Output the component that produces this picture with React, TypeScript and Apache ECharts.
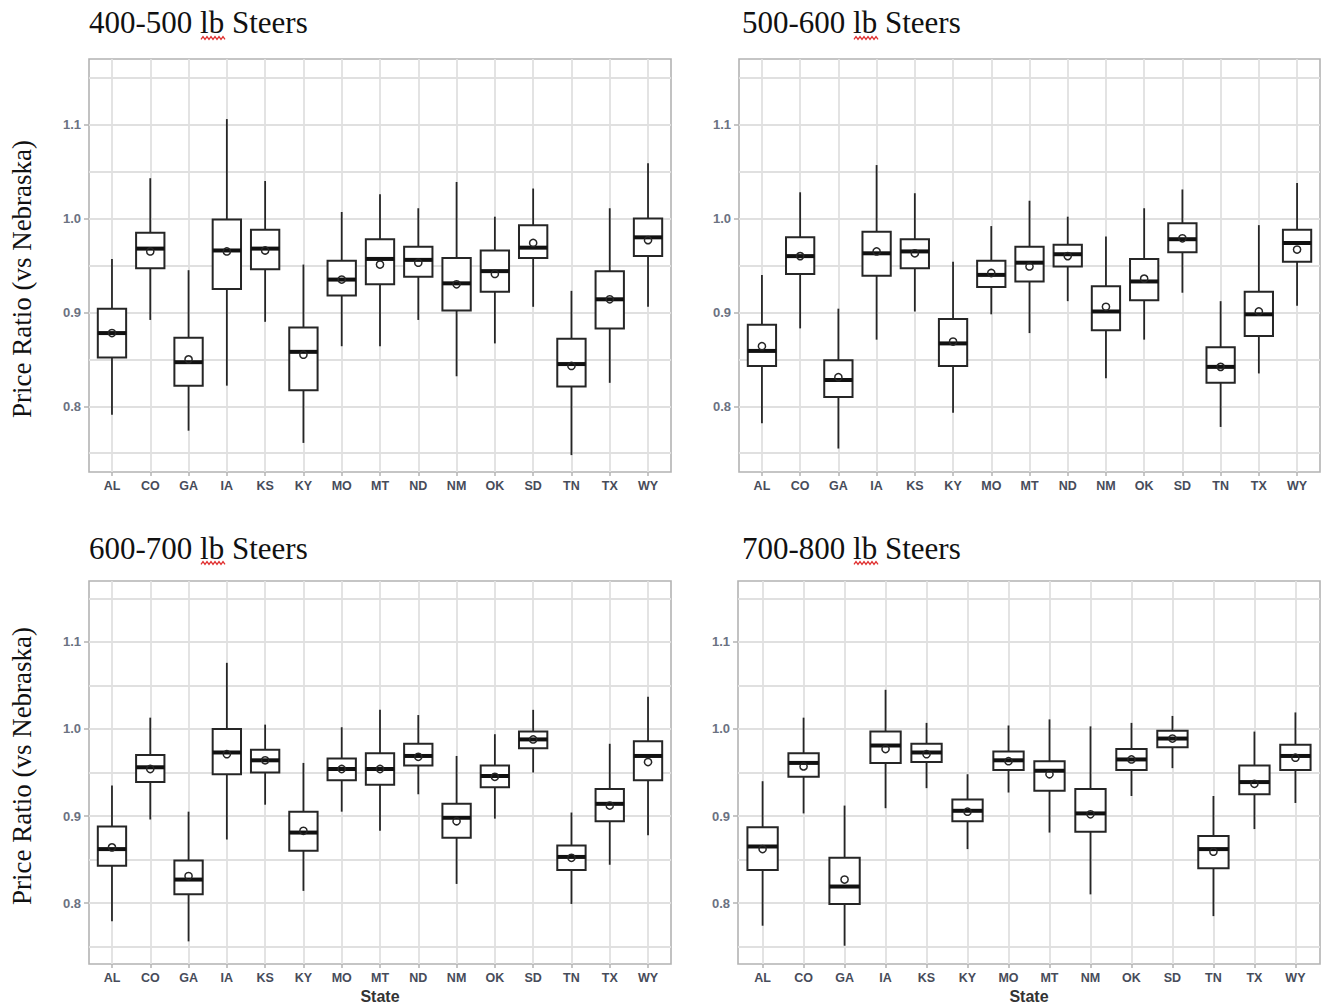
import React, { useEffect, useRef } from "react";
import * as echarts from "echarts";

// ---------- data ----------
const STATES_15 = ["AL", "CO", "GA", "IA", "KS", "KY", "MO", "MT", "ND", "NM", "OK", "SD", "TN", "TX", "WY"];
const STATES_14 = ["AL", "CO", "GA", "IA", "KS", "KY", "MO", "MT", "NM", "OK", "SD", "TN", "TX", "WY"];

const PANEL_TITLES = ["400-500 lb Steers", "500-600 lb Steers", "600-700 lb Steers", "700-800 lb Steers"];
const Y_TITLE = "Price Ratio (vs Nebraska)";
const X_TITLE = "State";

const Y_MIN = 0.73;
const Y_MAX = 1.17;
const Y_MAJOR = [0.8, 0.9, 1.0, 1.1];
const Y_GRID = [0.75, 0.8, 0.85, 0.9, 0.95, 1.0, 1.05, 1.1, 1.15];

// [lower whisker, Q1, median, Q3, upper whisker]
const box400 = [
  [0.791, 0.852, 0.878, 0.904, 0.957],
  [0.892, 0.947, 0.968, 0.985, 1.043],
  [0.774, 0.822, 0.847, 0.873, 0.945],
  [0.822, 0.925, 0.966, 0.999, 1.106],
  [0.890, 0.946, 0.968, 0.988, 1.040],
  [0.761, 0.817, 0.858, 0.884, 0.951],
  [0.864, 0.918, 0.935, 0.955, 1.007],
  [0.864, 0.930, 0.957, 0.978, 1.026],
  [0.892, 0.938, 0.956, 0.970, 1.011],
  [0.832, 0.902, 0.931, 0.958, 1.039],
  [0.867, 0.922, 0.944, 0.966, 1.002],
  [0.906, 0.958, 0.969, 0.993, 1.032],
  [0.748, 0.821, 0.845, 0.872, 0.923],
  [0.825, 0.883, 0.914, 0.944, 1.011],
  [0.906, 0.960, 0.980, 1.000, 1.059],
];
const mean400 = [0.878, 0.965, 0.850, 0.965, 0.966, 0.855, 0.935, 0.951, 0.953, 0.930, 0.941, 0.974, 0.843, 0.914, 0.977];

const box500 = [
  [0.782, 0.843, 0.859, 0.887, 0.940],
  [0.883, 0.941, 0.960, 0.980, 1.028],
  [0.755, 0.810, 0.828, 0.849, 0.904],
  [0.871, 0.939, 0.963, 0.986, 1.057],
  [0.901, 0.947, 0.965, 0.978, 1.027],
  [0.793, 0.843, 0.867, 0.893, 0.954],
  [0.898, 0.927, 0.940, 0.955, 0.992],
  [0.878, 0.933, 0.953, 0.970, 1.019],
  [0.912, 0.949, 0.962, 0.972, 1.002],
  [0.830, 0.881, 0.901, 0.928, 0.981],
  [0.871, 0.913, 0.933, 0.957, 1.011],
  [0.921, 0.964, 0.978, 0.995, 1.031],
  [0.778, 0.825, 0.842, 0.863, 0.912],
  [0.835, 0.875, 0.898, 0.922, 0.993],
  [0.907, 0.954, 0.974, 0.988, 1.038],
];
const mean500 = [0.864, 0.960, 0.831, 0.965, 0.963, 0.869, 0.942, 0.949, 0.960, 0.906, 0.936, 0.979, 0.842, 0.901, 0.967];

const box600 = [
  [0.779, 0.843, 0.862, 0.888, 0.935],
  [0.896, 0.939, 0.956, 0.970, 1.013],
  [0.756, 0.810, 0.827, 0.849, 0.905],
  [0.873, 0.948, 0.973, 1.000, 1.076],
  [0.913, 0.950, 0.964, 0.976, 1.005],
  [0.814, 0.860, 0.881, 0.905, 0.961],
  [0.905, 0.941, 0.954, 0.966, 1.002],
  [0.883, 0.936, 0.954, 0.972, 1.022],
  [0.925, 0.958, 0.969, 0.983, 1.016],
  [0.822, 0.875, 0.898, 0.914, 0.969],
  [0.897, 0.933, 0.946, 0.958, 0.994],
  [0.950, 0.978, 0.988, 0.997, 1.022],
  [0.799, 0.838, 0.853, 0.866, 0.904],
  [0.844, 0.894, 0.914, 0.931, 0.983],
  [0.878, 0.941, 0.969, 0.986, 1.037],
];
const mean600 = [0.864, 0.954, 0.831, 0.971, 0.964, 0.883, 0.954, 0.954, 0.968, 0.894, 0.945, 0.988, 0.852, 0.912, 0.962];

const box700 = [
  [0.774, 0.838, 0.865, 0.887, 0.940],
  [0.903, 0.945, 0.961, 0.972, 1.013],
  [0.751, 0.799, 0.819, 0.852, 0.912],
  [0.909, 0.961, 0.981, 0.997, 1.045],
  [0.932, 0.962, 0.973, 0.983, 1.007],
  [0.862, 0.894, 0.906, 0.919, 0.948],
  [0.927, 0.953, 0.964, 0.974, 1.004],
  [0.881, 0.929, 0.952, 0.963, 1.011],
  [0.810, 0.882, 0.903, 0.931, 1.003],
  [0.923, 0.953, 0.965, 0.977, 1.007],
  [0.955, 0.979, 0.989, 0.998, 1.015],
  [0.785, 0.840, 0.862, 0.877, 0.923],
  [0.885, 0.925, 0.939, 0.958, 0.997],
  [0.915, 0.953, 0.969, 0.982, 1.019],
];
const mean700 = [0.862, 0.957, 0.827, 0.977, 0.971, 0.905, 0.963, 0.948, 0.902, 0.965, 0.989, 0.859, 0.937, 0.967];

// ---------- layout / style ----------
const PANELS = [
  { states: STATES_15, box: box400, mean: mean400, grid: { left: 89, top: 59, width: 582, height: 413 }, title: [89, 22.5], yTitle: [22, 279], squiggle: [201, 38], showX: false },
  { states: STATES_15, box: box500, mean: mean500, grid: { left: 739, top: 59, width: 581, height: 413 }, title: [742, 22.5], yTitle: null, squiggle: [854, 38], showX: false },
  { states: STATES_15, box: box600, mean: mean600, grid: { left: 89, top: 581, width: 582, height: 384 }, title: [89, 548], yTitle: [22, 766], squiggle: [201, 563], showX: true },
  { states: STATES_14, box: box700, mean: mean700, grid: { left: 738, top: 581, width: 582, height: 384 }, title: [742, 548], yTitle: null, squiggle: [854, 563], showX: true },
];

const BOX_WIDTH = 0.74;
const INK = "#262626";
const GRID_COLOR = "#e0e0e0";
const BORDER_COLOR = "#b3b3b3";

function renderBox(params: any, api: any) {
  const x = api.value(0);
  const low = api.coord([x, api.value(1)]);
  const q1 = api.coord([x, api.value(2)]);
  const med = api.coord([x, api.value(3)]);
  const q3 = api.coord([x, api.value(4)]);
  const high = api.coord([x, api.value(5)]);
  const mean = api.coord([x, api.value(6)]);
  const w = api.size([BOX_WIDTH, 0], [x, 0])[0];
  const cx = med[0];
  return {
    type: "group",
    children: [
      { type: "line", shape: { x1: cx, y1: high[1], x2: cx, y2: q3[1] }, style: { stroke: INK, lineWidth: 1.8 } },
      { type: "line", shape: { x1: cx, y1: q1[1], x2: cx, y2: low[1] }, style: { stroke: INK, lineWidth: 1.8 } },
      { type: "rect", shape: { x: cx - w / 2, y: q3[1], width: w, height: q1[1] - q3[1] }, style: { fill: "#ffffff", stroke: INK, lineWidth: 2 } },
      { type: "line", shape: { x1: cx - w / 2, y1: med[1], x2: cx + w / 2, y2: med[1] }, style: { stroke: "#111111", lineWidth: 4 } },
      { type: "circle", shape: { cx: cx, cy: mean[1], r: 3.6 }, style: { fill: "none", stroke: INK, lineWidth: 1.5 } },
    ],
  };
}

function squigglePoints(x0: number, y0: number, len: number) {
  const pts: number[][] = [];
  for (let i = 0; i <= len; i += 2) {
    pts.push([x0 + i, y0 + (i % 4 === 0 ? 1.4 : -1.4)]);
  }
  return pts;
}

function buildOption() {
  const grids: any[] = [];
  const xAxes: any[] = [];
  const yAxes: any[] = [];
  const series: any[] = [];
  const graphics: any[] = [];

  PANELS.forEach((p, i) => {
    const n = p.states.length;
    const idx = p.states.map((_, k) => k);
    grids.push({
      ...p.grid,
      show: true,
      borderColor: BORDER_COLOR,
      borderWidth: 1.6,
      backgroundColor: "#ffffff",
      containLabel: false,
    });
    xAxes.push({
      gridIndex: i,
      type: "value",
      min: -0.6,
      max: n - 1 + 0.6,
      axisLine: { show: false },
      axisTick: { show: true, customValues: idx, length: 4, lineStyle: { color: BORDER_COLOR, width: 1.5 } },
      axisLabel: {
        customValues: idx,
        formatter: (v: number) => p.states[Math.round(v)],
        margin: 7,
        fontFamily: "Liberation Sans, Arial, sans-serif",
        fontSize: 12.5,
        fontWeight: "bold",
        color: "#474c5a",
      },
      splitLine: { show: true, lineStyle: { color: GRID_COLOR, width: 1.8 } },
      name: p.showX ? X_TITLE : "",
      nameLocation: "middle",
      nameGap: 24,
      nameTextStyle: { fontFamily: "Liberation Sans, Arial, sans-serif", fontSize: 16, fontWeight: "bold", color: "#333333" },
    });
    // y axis carrying the grid lines (major + minor)
    yAxes.push({
      gridIndex: i,
      type: "value",
      position: "left",
      min: Y_MIN,
      max: Y_MAX,
      axisLine: { show: false },
      axisTick: { show: false, customValues: Y_GRID },
      axisLabel: { show: false, customValues: Y_GRID },
      splitLine: { show: true, lineStyle: { color: GRID_COLOR, width: 1.8 } },
    });
    // y axis carrying the tick labels
    yAxes.push({
      gridIndex: i,
      type: "value",
      position: "left",
      min: Y_MIN,
      max: Y_MAX,
      axisLine: { show: false },
      axisTick: { show: true, customValues: Y_MAJOR, length: 5, lineStyle: { color: BORDER_COLOR, width: 1.5 } },
      axisLabel: {
        customValues: Y_MAJOR,
        formatter: (v: number) => v.toFixed(1),
        margin: 8,
        fontFamily: "Liberation Sans, Arial, sans-serif",
        fontSize: 13,
        fontWeight: "bold",
        color: "#6b7282",
      },
      splitLine: { show: false },
    });

    const data = p.box.map((b, k) => [k, b[0], b[1], b[2], b[3], b[4], p.mean[k]]);
    series.push({
      type: "custom",
      xAxisIndex: i,
      yAxisIndex: 2 * i,
      renderItem: renderBox,
      encode: { x: 0, y: [1, 2, 3, 4, 5, 6] },
      data,
      z: 3,
    });

    graphics.push({
      type: "text",
      x: p.title[0],
      y: p.title[1],
      style: {
        text: PANEL_TITLES[i],
        fontFamily: "Liberation Serif, Times New Roman, serif",
        fontSize: 31,
        fill: "#111111",
        align: "left",
        verticalAlign: "middle",
      },
    });
    graphics.push({
      type: "polyline",
      shape: { points: squigglePoints(p.squiggle[0], p.squiggle[1], 24) },
      style: { stroke: "#e03030", lineWidth: 1.3, fill: "none" },
    });
    if (p.yTitle) {
      graphics.push({
        type: "text",
        x: p.yTitle[0],
        y: p.yTitle[1],
        rotation: Math.PI / 2,
        style: {
          text: Y_TITLE,
          fontFamily: "Liberation Serif, Times New Roman, serif",
          fontSize: 27,
          fill: "#111111",
          align: "center",
          verticalAlign: "middle",
        },
      });
    }
  });

  return {
    animation: false,
    backgroundColor: "#ffffff",
    grid: grids,
    xAxis: xAxes,
    yAxis: yAxes,
    series,
    graphic: graphics,
  };
}

export default function App() {
  const ref = useRef<HTMLDivElement | null>(null);
  useEffect(() => {
    if (!ref.current) return;
    const chart = echarts.init(ref.current, null, { renderer: "svg" });
    chart.setOption(buildOption() as any);
    return () => chart.dispose();
  }, []);
  return (
    <div
      ref={ref}
      style={{ position: "absolute", left: 0, top: 0, width: 1323, height: 1005, background: "#ffffff" }}
    />
  );
}
